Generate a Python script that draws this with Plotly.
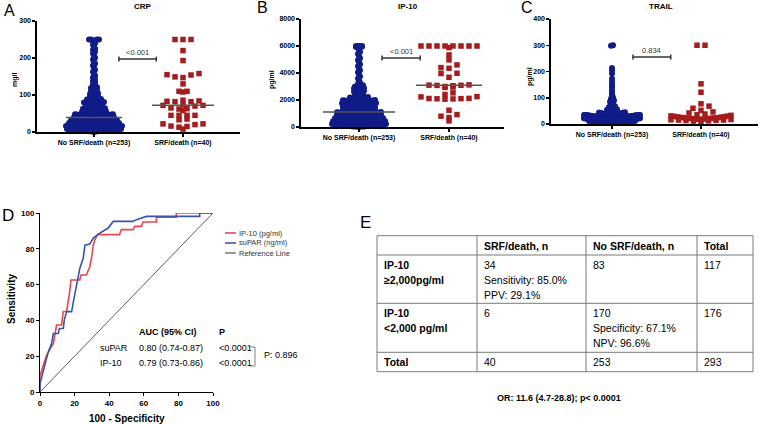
import numpy as np
import plotly.graph_objects as go

W, H = 761, 424
FONT = "Arial, Liberation Sans, sans-serif"
NAVY = "#101c88"
DARKRED = "#a51c1c"

# ---------------- data ----------------
CATEGORIES = ["No SRF/death (n=253)", "SRF/death (n=40)"]

CRP_NO = [250, 250, 250, 250, 248, 246,
          240, 236, 231, 226, 222, 217, 212, 206, 201, 196, 190, 185, 180, 174, 168, 163, 158, 152, 147, 142,
          138, 134, 130, 127, 124, 121,
          119, 117, 115, 113, 111, 109, 107, 105, 103, 101,
          99, 98, 96, 95, 94, 92, 91, 89, 88, 87, 86, 85, 84, 83, 82,
          81, 80, 79, 79, 78, 77, 76, 75, 75, 74, 73, 72, 71, 70, 70, 69, 68, 67, 66, 65, 64, 63,
          62, 62, 61, 60, 60, 59, 59, 58, 57, 57, 56, 55, 55, 54, 53, 53, 52, 52, 51, 50, 50, 49, 49, 48, 48,
          47, 47, 46, 46, 45, 45,
          44, 44, 44, 43, 43, 43, 42, 42, 42, 41, 41, 41, 40, 40, 40, 39, 39, 39, 38, 38, 38, 37, 37, 37, 36,
          36, 36, 35, 35, 34, 34, 33, 33, 32,
          31, 31, 31, 30, 30, 30, 30, 29, 29, 29, 28, 28, 28, 27, 27, 27, 26, 26, 26, 25, 25, 25, 25, 24, 24,
          24, 23, 23, 23, 22, 22, 22, 21, 21, 21, 20, 20, 20, 20, 19, 19, 19, 18,
          18, 18, 17, 17, 17, 17, 16, 16, 16, 16, 15, 15, 15, 15, 14, 14, 14, 14, 13, 13, 13, 13, 12, 12, 12,
          12, 11, 11, 11, 11, 10, 10, 10, 10, 9, 9, 9, 9, 8, 8, 8, 8, 7, 7, 7, 7, 6, 6, 6, 6, 5, 5, 5, 5, 4, 4,
          4, 4, 3, 3, 3, 2, 2, 2, 1, 1]
CRP_SRF = [250, 250, 250, 220, 193, 158, 155, 154, 149, 147, 130, 110, 110, 108, 86, 84, 83, 82, 82, 73,
           72, 72, 70, 65, 63, 62, 58, 45, 45, 45, 45, 35, 33, 22, 22, 20, 16, 15, 13, 8]

IP10_NO = [6000, 6000, 6000, 6000, 5950, 5920, 5900, 5850,
           5700, 5550, 5400, 5250, 5100, 4950, 4800, 4650, 4500, 4350, 4200, 4050, 3900, 3750, 3600, 3450,
           3300, 3200, 3100, 3000,
           2980, 2950, 2910, 2880, 2850, 2820, 2780, 2740, 2700, 2660, 2620, 2580, 2540, 2500, 2460, 2420,
           2380, 2340, 2300, 2260, 2220, 2190, 2160, 2130, 2100, 2080, 2060, 2040, 2020, 2000,
           1995, 1980, 1968, 1955, 1940, 1928, 1915, 1902, 1890, 1876, 1862, 1850, 1838, 1825, 1812, 1800,
           1787, 1774, 1762, 1750, 1736, 1722, 1710, 1698, 1685, 1672, 1660, 1646, 1634, 1620, 1608, 1595,
           1582, 1570, 1556, 1544, 1530, 1518, 1505, 1492, 1480, 1466, 1454, 1440, 1428, 1415, 1402, 1390,
           1376, 1364, 1350, 1338, 1325, 1312, 1300, 1286, 1274, 1260, 1248, 1235, 1222, 1210, 1196, 1184,
           1170, 1158, 1145, 1132,
           1112, 1102, 1093, 1083, 1073, 1064, 1054, 1044, 1035, 1025, 1016, 1006, 996, 987, 977, 968, 958,
           948, 939, 929, 920, 910, 900, 891, 881, 872, 862, 852, 843, 833, 824, 814, 804, 795, 785, 776, 766,
           756, 747, 737, 728, 718, 708, 699, 689, 680, 670, 660, 651, 641, 632, 622, 612, 603, 593, 584, 574,
           564, 555, 545, 536, 526,
           518, 510, 502, 494, 486, 478, 470, 462, 454, 446, 438, 430, 422, 414, 406, 398, 390, 382, 374, 366,
           358, 350, 342, 334, 326, 318, 310, 302, 294, 286, 278, 270, 262, 254, 246, 238, 230, 222, 214, 206,
           198, 190, 182, 174, 166, 158, 150, 142, 134, 126, 118, 110, 102, 94, 86, 78, 70, 62, 54, 46, 40, 34,
           28, 22, 16]
IP10_SRF = [6000, 6000, 6000, 6000, 6000, 6000, 6000, 6000, 5880, 5340, 4970, 4600, 4400, 4350, 3980, 3960,
            3680, 3120, 3100, 3090, 3080, 3060, 3000, 2960, 2930, 2530, 2410, 2250, 2230, 2120, 2110, 2100,
            2090, 2080, 2060, 1240, 920, 800, 700, 450]

TRAIL_NO = [300, 298, 213, 205, 192, 172, 160, 150, 140, 128, 118, 110, 102, 96, 90, 85, 80, 76, 72, 68, 65,
            62, 59, 56, 54, 52, 50,
            48, 46, 45, 44, 43, 42, 41, 40, 39, 38, 37, 36,
            35, 35, 35, 35, 34, 34, 34, 34, 34, 33, 33, 33, 33, 33, 32, 32, 32, 32, 32, 32,
            31, 31, 31, 31, 31, 31, 30, 30, 30, 30, 30, 30, 30, 29, 29, 29, 29, 29, 29, 29,
            28, 28, 28, 28, 28, 28, 28, 27, 27, 27, 27, 27, 27, 27, 27, 26, 26, 26, 26, 26,
            26, 26, 26, 25, 25, 25, 25, 25, 25, 25, 25, 25, 24, 24, 24, 24, 24, 24, 24, 24,
            24, 23, 23, 23, 23, 23, 23, 23, 23, 23, 22, 22, 22, 22, 22, 22, 22, 22, 22, 22,
            21, 21, 21, 21, 21, 21, 21, 21, 21, 21, 20, 20, 20, 20, 20, 20, 20, 20, 20, 20,
            20, 19, 19, 19, 19, 19, 19, 19, 19, 19, 18, 18, 18, 18, 18, 18, 18, 18, 18, 17,
            17, 17, 17, 17, 17, 17, 17, 16, 16, 16, 16, 16, 16, 16, 16, 15, 15, 15, 15, 15,
            15, 15, 14, 14, 14, 14, 14, 14, 14, 13, 13, 13, 13, 13, 13, 12, 12, 12, 12, 12,
            12, 11, 11, 11, 11, 11, 10, 10, 10, 10, 10, 9, 9, 9, 9, 9, 8, 8, 8, 8,
            8, 8, 9, 10, 11, 12, 13, 14, 15, 16, 17, 18, 19, 20]
TRAIL_SRF = [300, 300, 153, 121, 77, 68, 60, 52, 46, 42, 38, 35, 33, 31, 30, 29, 28, 27, 26, 25,
             24, 24, 23, 22, 22, 21, 20, 20, 19, 18, 18, 17, 16, 15, 15, 14, 13, 12, 11, 10]

P_LABELS = ["&lt;0.001", "&lt;0.001", "0.834"]
BRACKET_Y = [197, 5110, 255]

# ROC curves (100 - specificity, sensitivity)
IP10_FPR = [0, 0, 1.9, 3.8, 5.8, 7.7, 9.6, 12.5, 13, 13.5, 15.4, 16.3, 17.3, 17.9, 23, 23.7, 26.9, 27.9,
            28.8, 29.8, 30.8, 31.7, 33.3, 46, 47, 53.8, 54.8, 58.7, 59.6, 67.3, 67.3, 78.8, 78.8, 100]
IP10_TPR = [0, 9, 15, 20.5, 24, 27, 37.4, 37.4, 42, 45, 45, 50, 57, 62.6, 62.6, 65.4, 65.4, 68, 70, 75,
            82, 85, 87.9, 87.9, 90.7, 90.7, 92.5, 92.5, 95, 95, 97.6, 97.6, 100, 100]
SUPAR_FPR = [0, 0, 1, 2.9, 4.8, 6.7, 7.7, 10.6, 11.2, 13.5, 14, 15.4, 18.3, 19.6, 20.8, 21.7, 23, 25, 26,
             28.8, 30.8, 33.7, 36.5, 39.4, 42.3, 53.8, 55.8, 58.7, 61.5, 92.3, 92.3, 100]
SUPAR_TPR = [0, 4.7, 8.4, 15, 22.4, 27, 32.7, 32.7, 35.5, 35.5, 40, 44.9, 44.9, 52, 58, 64.5, 69, 74.8, 82,
             82.6, 86, 88.2, 90, 91.6, 95.3, 95.3, 96.3, 97.2, 98.1, 98.1, 100, 100]
REF_LINE = [0, 100]
LEGEND_LABELS = ["IP-10 (pg/ml)", "suPAR (ng/ml)", "Reference Line"]

AUC_ROWS = [["suPAR", "0.80 (0.74-0.87)", "&lt;0.0001"], ["IP-10", "0.79 (0.73-0.86)", "&lt;0.0001"]]
P_COMPARE = "P: 0.896"

TABLE_COLS = ["", "SRF/death, n", "No SRF/death, n", "Total"]
ROW_LABELS = [["IP-10", "≥2,000pg/ml"], ["IP-10", "&lt;2,000 pg/ml"], ["Total"]]
CELLS = [
    [["34", "Sensitivity: 85.0%", "PPV: 29.1%"], ["83"], ["117"]],
    [["6"], ["170", "Specificity: 67.1%", "NPV: 96.6%"], ["176"]],
    [["40"], ["253"], ["293"]],
]
OR_TEXT = "OR: 11.6 (4.7-28.8); p&lt; 0.0001"


# ---------------- helpers ----------------
def fx(x):
    return x / W


def fy(y):
    return 1 - y / H


def note(x, y, text, font, xanchor="center", yanchor="middle", **kw):
    d = dict(xref="paper", yref="paper", x=fx(x), y=fy(y), text=text, showarrow=False, font=font,
             xanchor=xanchor, yanchor=yanchor)
    d.update(kw)
    return d


def swarm(values, px_per_unit, bin_px, step_px, max_half_px, px_per_cat):
    v = np.asarray(values, float)
    bins = np.floor(v * px_per_unit / bin_px).astype(int)
    off = np.zeros(len(v))
    for b in np.unique(bins):
        idx = np.where(bins == b)[0]
        idx = idx[np.argsort(v[idx], kind="stable")]
        k = len(idx)
        if k == 1:
            continue
        step = min(step_px, 2 * max_half_px / (k - 1))
        pos = (np.arange(k) - (k - 1) / 2) * step
        order = np.argsort(np.abs(pos), kind="stable")
        off[idx] = pos[order]
    return off / px_per_cat


fig = go.Figure()
annotations = []
shapes = []

PANELS = [
    dict(label="A", title="CRP", unit="mg/l", no=CRP_NO, srf=CRP_SRF, ymax=300, dtick=100,
         x0=37, x1=240, c0=94, c1=183, ytop=21, ybot=132, lab=(9, 10), unit_xy=(15, 80), med=(28, 31),
         br=(0.28, 0.70)),
    dict(label="B", title="IP-10", unit="pg/ml", no=IP10_NO, srf=IP10_SRF, ymax=8000, dtick=2000,
         x0=301, x1=504, c0=359, c1=449, ytop=19, ybot=127, lab=(262, 8), unit_xy=(272, 80), med=(36, 33),
         br=(0.256, 0.68)),
    dict(label="C", title="TRAIL", unit="pg/ml", no=TRAIL_NO, srf=TRAIL_SRF, ymax=400, dtick=100,
         x0=551, x1=758, c0=612, c1=701, ytop=19, ybot=124, lab=(527, 8), unit_xy=(530, 77), med=None,
         br=(0.236, 0.66)),
]

for i, p in enumerate(PANELS):
    n = i + 1
    xa = "x" if n == 1 else f"x{n}"
    ya = "y" if n == 1 else f"y{n}"
    pxcat = p["c1"] - p["c0"]
    pxunit = (p["ybot"] - p["ytop"]) / p["ymax"]
    off_no = swarm(p["no"], pxunit, 3.0, 2.0, 28, pxcat)
    off_srf = swarm(p["srf"], pxunit, 4.5, 8.0, 30, pxcat)
    fig.add_trace(go.Scatter(x=0 + off_no, y=p["no"], mode="markers", xaxis=xa, yaxis=ya,
                             marker=dict(symbol="circle", size=6, color=NAVY, line=dict(width=0)),
                             cliponaxis=False, showlegend=False, hoverinfo="skip"))
    fig.add_trace(go.Scatter(x=1 + off_srf, y=p["srf"], mode="markers", xaxis=xa, yaxis=ya,
                             marker=dict(symbol="square", size=5.5, color=DARKRED, line=dict(width=0)),
                             cliponaxis=False, showlegend=False, hoverinfo="skip"))
    xr = [(p["x0"] - p["c0"]) / pxcat, (p["x1"] - p["c0"]) / pxcat]
    axis_common = dict(showline=True, linecolor="black", linewidth=1.6, ticks="outside", ticklen=3,
                       tickwidth=1.5, tickcolor="black", showgrid=False, zeroline=False, fixedrange=True,
                       automargin=False,
                       tickfont=dict(family=FONT, size=7, color="black", weight="bold"))
    fig.update_layout(**{
        ("xaxis" if n == 1 else f"xaxis{n}"): dict(domain=[fx(p["x0"]), fx(p["x1"])], range=xr, anchor=ya,
                                                   tickvals=[0, 1], ticktext=CATEGORIES, **axis_common),
        ("yaxis" if n == 1 else f"yaxis{n}"): dict(domain=[fy(p["ybot"]), fy(p["ytop"])], range=[0, p["ymax"]],
                                                   anchor=xa, tickvals=list(range(0, p["ymax"] + 1, p["dtick"])),
                                                   **axis_common),
    })
    # medians
    if p["med"]:
        for c, vals, hw in [(0, p["no"], p["med"][0]), (1, p["srf"], p["med"][1])]:
            m = float(np.median(vals))
            shapes.append(dict(type="line", xref=xa, yref=ya, x0=c - hw / pxcat, x1=c + hw / pxcat, y0=m, y1=m,
                               line=dict(color="#555555", width=1.5), layer="above"))
    # significance bracket
    by = BRACKET_Y[i]
    cap = 2.5 / pxunit
    b0, b1 = p["br"]
    shapes.append(dict(type="line", xref=xa, yref=ya, x0=b0, x1=b1, y0=by, y1=by,
                       line=dict(color="#333333", width=1.5)))
    for bx in (b0, b1):
        shapes.append(dict(type="line", xref=xa, yref=ya, x0=bx, x1=bx, y0=by - cap, y1=by + cap,
                           line=dict(color="#333333", width=1.5)))
    annotations.append(dict(xref=xa, yref=ya, x=(b0 + b1) / 2, y=by, yshift=7, text=P_LABELS[i],
                            xanchor="center", yanchor="middle",
                            showarrow=False, font=dict(family=FONT, size=7.5, color="#333333")))
    # title, unit, panel label
    annotations.append(note((p["c0"] + p["c1"]) / 2 + 4, 6, p["title"],
                            dict(family=FONT, size=8, color="black", weight="bold")))
    annotations.append(note(p["unit_xy"][0], p["unit_xy"][1], p["unit"],
                            dict(family=FONT, size=7, color="black", weight="bold"), textangle=-90))
    annotations.append(note(p["lab"][0], p["lab"][1], p["label"], dict(family=FONT, size=16, color="black")))

# ---------------- panel D: ROC ----------------
RED_L = "#e8474c"
BLUE_L = "#3b55a6"
fig.add_trace(go.Scatter(x=REF_LINE, y=REF_LINE, mode="lines", xaxis="x4", yaxis="y4",
                         line=dict(color="#333333", width=0.8), showlegend=False, hoverinfo="skip",
                         cliponaxis=False))
fig.add_trace(go.Scatter(x=IP10_FPR, y=IP10_TPR, mode="lines", xaxis="x4", yaxis="y4",
                         line=dict(color=RED_L, width=1.6), showlegend=False, hoverinfo="skip",
                         cliponaxis=False))
fig.add_trace(go.Scatter(x=SUPAR_FPR, y=SUPAR_TPR, mode="lines", xaxis="x4", yaxis="y4",
                         line=dict(color=BLUE_L, width=1.6), showlegend=False, hoverinfo="skip",
                         cliponaxis=False))
axd = dict(showline=True, linecolor="black", linewidth=1, ticks="outside", ticklen=3, tickwidth=1,
           tickcolor="black", showgrid=False, zeroline=False, fixedrange=True, range=[0, 100],
           tickvals=[0, 20, 40, 60, 80, 100], automargin=False,
           tickfont=dict(family=FONT, size=8, color="black", weight="bold"))
fig.update_layout(xaxis4=dict(domain=[fx(40), fx(213)], anchor="y4", **axd),
                  yaxis4=dict(domain=[fy(392), fy(213)], anchor="x4", **axd))
annotations.append(note(127, 418, "100 - Specificity", dict(family=FONT, size=10, color="black", weight="bold")))
annotations.append(note(11, 299, "Sensitivity", dict(family=FONT, size=10, color="black", weight="bold"),
                        textangle=-90))
annotations.append(note(8, 215, "D", dict(family=FONT, size=17, color="black")))
# legend
for lab, col, yy in zip(LEGEND_LABELS, [RED_L, BLUE_L, "#333333"], [233, 243, 253]):
    shapes.append(dict(type="line", xref="paper", yref="paper", x0=fx(225), x1=fx(236), y0=fy(yy), y1=fy(yy),
                       line=dict(color=col, width=1.6 if col != "#333333" else 1)))
    annotations.append(note(237, yy, lab, dict(family=FONT, size=7.5, color="#333333"), xanchor="left"))
# AUC table
fd9 = dict(family=FONT, size=9, color="black")
fd9b = dict(family=FONT, size=9, color="black", weight="bold")
annotations.append(note(137, 332, "AUC (95% CI)", fd9b, xanchor="left"))
annotations.append(note(217, 332, "P", fd9b, xanchor="left"))
for row, yy in zip(AUC_ROWS, [348, 363]):
    for txt, xx in zip(row, [98, 137, 217]):
        annotations.append(note(xx, yy, txt, fd9, xanchor="left"))
for seg in [(250, 347, 255, 347), (255, 347, 255, 366), (250, 366, 255, 366)]:
    shapes.append(dict(type="line", xref="paper", yref="paper", x0=fx(seg[0]), y0=fy(seg[1]),
                       x1=fx(seg[2]), y1=fy(seg[3]), line=dict(color="#666666", width=0.8)))
annotations.append(note(262, 355, P_COMPARE, fd9, xanchor="left"))

# ---------------- panel E: table ----------------
COL_EDGES = [377, 477, 586, 697, 753]
ROW_EDGES = [235.7, 255, 303.3, 352.3, 371.7]
for yy in ROW_EDGES:
    shapes.append(dict(type="line", xref="paper", yref="paper", x0=fx(COL_EDGES[0]), x1=fx(COL_EDGES[-1]),
                       y0=fy(yy), y1=fy(yy), line=dict(color="#7a7a7a", width=1)))
for xx in COL_EDGES:
    shapes.append(dict(type="line", xref="paper", yref="paper", x0=fx(xx), x1=fx(xx),
                       y0=fy(ROW_EDGES[0]), y1=fy(ROW_EDGES[-1]), line=dict(color="#7a7a7a", width=1)))
fb = dict(family=FONT, size=10.5, color="black", weight="bold")
fr = dict(family=FONT, size=10.5, color="black")
for j, txt in enumerate(TABLE_COLS):
    if txt:
        annotations.append(note(COL_EDGES[j] + 5, 246, txt, fb, xanchor="left"))
LINE_GAP = 15
for r in range(3):
    top = ROW_EDGES[r + 1]
    for k, t in enumerate(ROW_LABELS[r]):
        annotations.append(note(COL_EDGES[0] + 5, top + 9.5 + k * LINE_GAP, t, fb, xanchor="left"))
    for c in range(3):
        for k, t in enumerate(CELLS[r][c]):
            annotations.append(note(COL_EDGES[c + 1] + 5, top + 9.5 + k * LINE_GAP, t, fr, xanchor="left"))
annotations.append(note(559, 398, OR_TEXT, dict(family=FONT, size=9, color="black", weight="bold")))
annotations.append(note(365, 222, "E", dict(family=FONT, size=17, color="black")))

fig.update_layout(width=W, height=H, autosize=False, margin=dict(l=0, r=0, t=0, b=0, pad=0),
                  paper_bgcolor="white", plot_bgcolor="white", showlegend=False,
                  annotations=annotations, shapes=shapes, font=dict(family=FONT))
fig.write_html("out.html", config={"displayModeBar": False, "staticPlot": True},
               post_script="document.body.style.margin='0';document.body.style.padding='0';")
